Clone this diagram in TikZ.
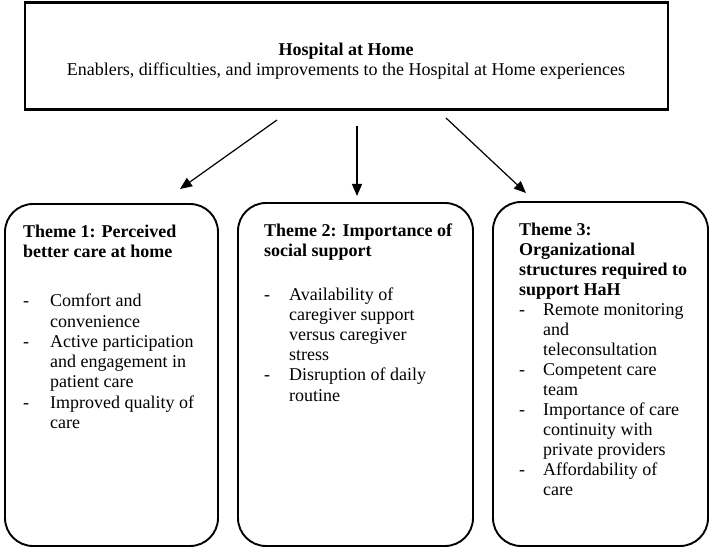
\documentclass[tikz,border=0pt]{standalone}
\usepackage{fontspec}
\setmainfont{Liberation Serif}
\usetikzlibrary{arrows.meta}
\begin{document}
\begin{tikzpicture}[x=1pt,y=-1pt,
  topbox/.style={draw, line width=2.6pt, inner sep=0pt},
  themebox/.style={draw, line width=1.9pt, rounded corners=28pt, inner sep=0pt},
  arr/.style={line width=1.2pt, -{Triangle[length=12pt,width=10pt]}},
  txt/.style={anchor=base west, inner sep=0pt, font=\fontsize{18}{20.3}\selectfont}]
\useasboundingbox (0,0) rectangle (710,548);
% top box
\node[topbox, minimum width=643pt, minimum height=107pt] (top) at (346.5,56) {};
\node[anchor=base, inner sep=0pt, font=\fontsize{18}{20}\selectfont\bfseries] (title) at (346,56) {Hospital at Home};
\node[anchor=base, inner sep=0pt, font=\fontsize{18}{20}\selectfont] (sub) at (346,76) {Enablers, difficulties, and improvements to the Hospital at Home experiences};
% theme boxes
\node[themebox, minimum width=213pt, minimum height=342pt] (t1) at (111.5,375) {};
\node[themebox, minimum width=235pt, minimum height=343pt] (t2) at (355.5,374.5) {};
\node[themebox, minimum width=215pt, minimum height=344pt] (t3) at (600.5,374) {};
% texts
\node[txt] (x1) at (23,237.7) {\begin{tabular}[t]{@{}p{27pt}@{}l@{}}
\multicolumn{2}{@{}l@{}}{\bfseries Theme 1: Perceived}\\
\multicolumn{2}{@{}l@{}}{\bfseries better care at home}\\[28.5pt]
- & Comfort and\\
  & convenience\\
- & Active participation\\
  & and engagement in\\
  & patient care\\
- & Improved quality of\\
  & care
\end{tabular}};
\node[txt, font=\fontsize{18}{20.2}\selectfont] (x2) at (264,236.7) {\begin{tabular}[t]{@{}p{25pt}@{}l@{}}
\multicolumn{2}{@{}l@{}}{\bfseries Theme 2: Importance of}\\
\multicolumn{2}{@{}l@{}}{\bfseries social support}\\[23pt]
- & Availability of\\
  & caregiver support\\
  & versus caregiver\\
  & stress\\
- & Disruption of daily\\
  & routine
\end{tabular}};
\node[txt, font=\fontsize{18}{20}\selectfont] (x3) at (519,236) {\begin{tabular}[t]{@{}p{24pt}@{}l@{}}
\multicolumn{2}{@{}l@{}}{\bfseries Theme 3:}\\
\multicolumn{2}{@{}l@{}}{\bfseries Organizational}\\
\multicolumn{2}{@{}l@{}}{\bfseries structures required to}\\
\multicolumn{2}{@{}l@{}}{\bfseries support HaH}\\
- & Remote monitoring\\
  & and\\
  & teleconsultation\\
- & Competent care\\
  & team\\
- & Importance of care\\
  & continuity with\\
  & private providers\\
- & Affordability of\\
  & care
\end{tabular}};
% arrows
\coordinate (a1s) at (277,120);
\coordinate (a1e) at (180,189);
\coordinate (a2s) at (357,126);
\coordinate (a2e) at (357,196);
\coordinate (a3s) at (446,118);
\coordinate (a3e) at (526,193);
\draw[arr] (a1s) -- (a1e);
\draw[arr] (a2s) -- (a2e);
\draw[arr] (a3s) -- (a3e);
\end{tikzpicture}
\end{document}
